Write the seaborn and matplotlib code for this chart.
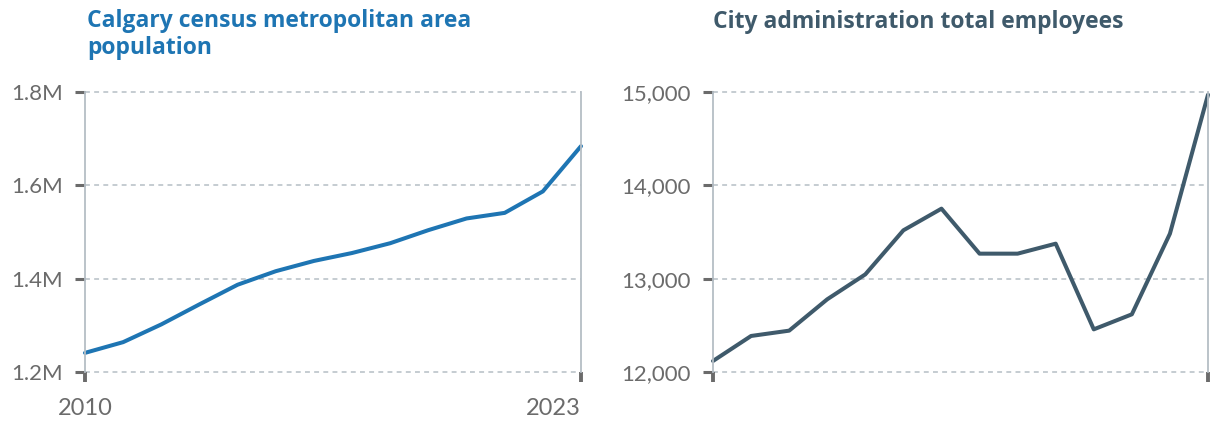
import matplotlib
matplotlib.use('Agg')
import matplotlib.pyplot as plt
import matplotlib.ticker as mticker
import seaborn as sns
import pandas as pd

years = list(range(2010, 2024))
population = [1.241e6, 1.264e6, 1.302e6, 1.345e6, 1.387e6, 1.416e6, 1.438e6,
              1.455e6, 1.476e6, 1.504e6, 1.529e6, 1.541e6, 1.587e6, 1.684e6]
employees = [12118, 12386, 12443, 12779, 13046, 13518, 13750,
             13268, 13268, 13375, 12457, 12618, 13482, 14971]

pop_ticks = [1.2e6, 1.4e6, 1.6e6, 1.8e6]
emp_ticks = [12000, 13000, 14000, 15000]
year_ticks = [2010, 2023]

sns.set_theme(style='white')
plt.rcParams['font.family'] = ['Lato', 'DejaVu Sans']

grid_col = '#b5bec5'
tick_col = '#6b6b6b'

fig = plt.figure(figsize=(12.2, 4.32), dpi=100)
ax1 = fig.add_axes([85 / 1220, 1 - 372 / 432, 496 / 1220, 280 / 432])
ax2 = fig.add_axes([713 / 1220, 1 - 372 / 432, 495 / 1220, 280 / 432])

df = pd.DataFrame({'year': years, 'population': population, 'employees': employees})

sns.lineplot(data=df, x='year', y='population', ax=ax1, color='#1e75b3', linewidth=2.9)
sns.lineplot(data=df, x='year', y='employees', ax=ax2, color='#3f5a6b', linewidth=2.9)

for ax, ticks in [(ax1, pop_ticks), (ax2, emp_ticks)]:
    ax.set_xlim(2010, 2023)
    ax.set_ylim(ticks[0], ticks[-1])
    ax.set_yticks(ticks)
    ax.set_xticks(year_ticks)
    ax.set_xlabel('')
    ax.set_ylabel('')
    ax.set_facecolor('none')
    for s in ['top', 'bottom']:
        ax.spines[s].set_visible(False)
    for s in ['left', 'right']:
        ax.spines[s].set_color(grid_col)
        ax.spines[s].set_linewidth(1.3)
    for t in ticks:
        ax.axhline(t, color=grid_col, linewidth=1.1, dashes=(3.2, 2.8), zorder=0)
    ax.tick_params(axis='y', left=True, length=7, width=2.2, color=tick_col,
                   labelcolor=tick_col, labelsize=16, pad=9)
    ax.tick_params(axis='x', bottom=True, length=7, width=2.8, color=tick_col,
                   labelcolor=tick_col, labelsize=17, pad=12)
    for line in ax.lines:
        line.set_clip_on(False)

ax1.yaxis.set_major_formatter(mticker.FuncFormatter(lambda v, p: f'{v / 1e6:.1f}M'))
ax2.yaxis.set_major_formatter(mticker.FuncFormatter(lambda v, p: f'{v:,.0f}'))
ax1.set_xticklabels([str(y) for y in year_ticks])
ax1.get_xticklabels()[-1].set_ha('right')
ax2.set_xticklabels(['', ''])

title_font = ['Open Sans', 'DejaVu Sans']
fig.text(87 / 1220, 1 - 9 / 432, 'Calgary census metropolitan area\npopulation',
         color='#1e75b3', fontsize=16.5, fontweight='bold', va='top', ha='left',
         linespacing=1.15, family=title_font)
fig.text(713 / 1220, 1 - 10 / 432, 'City administration total employees',
         color='#3f5a6b', fontsize=16.5, fontweight='bold', va='top', ha='left',
         family=title_font)

fig.savefig('out.png', dpi=100)
